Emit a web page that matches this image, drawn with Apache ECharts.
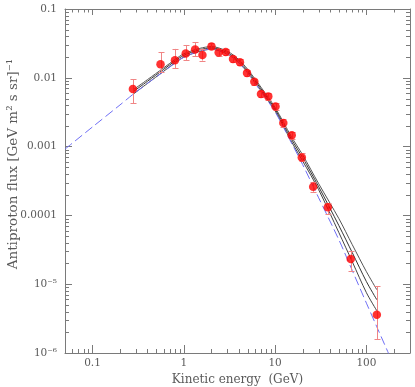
<!DOCTYPE html>
<html>
<head>
<meta charset="utf-8">
<script src="https://cdn.jsdelivr.net/npm/echarts@6/dist/echarts.min.js"></script>
<style>
html,body{margin:0;padding:0;background:#fff;}
#chart{width:415px;height:387px;}
</style>
</head>
<body>
<div id="chart"></div>
<script>
// ---- Data ----
const pointEnergy = [0.277, 0.556, 0.80, 1.05, 1.33, 1.60, 2.01, 2.41, 2.88, 3.46, 4.12, 4.92, 5.92, 7.0, 8.42, 10.1, 12.3, 15.2, 19.6, 26.1, 37.8, 67.3, 130];
const pointFlux   = [0.0069, 0.0158, 0.0180, 0.0226, 0.0257, 0.0214, 0.0286, 0.0234, 0.0237, 0.0187, 0.0168, 0.0117, 0.00877, 0.00582, 0.00537, 0.00384, 0.0022, 0.00146, 0.000697, 0.000261, 0.000131, 2.32e-5, 3.6e-6];
const errLow      = [0.0043, 0.0121, 0.0139, 0.0180, 0.0207, 0.0178, 0.0260, 0.0210, 0.0215, 0.0170, 0.0152, 0.0106, 0.0079, 0.0052, 0.0048, 0.0034, 0.00195, 0.0013, 0.00061, 0.00022, 0.000105, 1.57e-5, 1.6e-6];
const errHigh     = [0.0096, 0.0237, 0.0263, 0.0300, 0.0327, 0.0265, 0.0320, 0.0260, 0.0260, 0.0205, 0.0185, 0.0129, 0.0097, 0.0065, 0.0060, 0.0043, 0.00248, 0.00165, 0.00080, 0.00031, 0.000151, 3.0e-5, 9.3e-6];

const curveEnergy = [0.28, 0.4, 0.6, 0.8, 1, 1.5, 2, 3, 4, 5, 7, 10, 15, 20, 30, 50, 70, 100, 130];
const curveUpper  = [0.0067, 0.0094, 0.0139, 0.0184, 0.0223, 0.0268, 0.0284, 0.0243, 0.0184, 0.0133, 0.0073, 0.0037, 0.00141, 0.00076, 0.000289, 8.95e-5, 3.75e-5, 1.52e-5, 8.31e-6];
const curveMiddle = [0.0063, 0.0089, 0.0132, 0.0175, 0.0212, 0.0256, 0.0272, 0.0232, 0.0175, 0.0126, 0.0069, 0.0035, 0.0013, 0.00069, 0.000261, 7.08e-5, 2.87e-5, 1.09e-5, 5.94e-6];
const curveLower  = [0.0058, 0.0083, 0.0124, 0.0165, 0.0200, 0.0243, 0.0260, 0.0221, 0.0166, 0.0119, 0.0065, 0.0033, 0.0012, 0.00062, 0.000236, 5.6e-5, 2.12e-5, 7.52e-6, 4.11e-6];

const dashedEnergy = [0.05, 0.1, 0.2, 0.28, 0.4, 0.6, 0.8, 1, 1.5, 2, 3, 4, 5, 7, 10, 15, 20, 30, 50, 70, 100, 130, 180];
const dashedFlux   = [0.00092, 0.00193, 0.00403, 0.0058, 0.0083, 0.0123, 0.0163, 0.0199, 0.0245, 0.0262, 0.0222, 0.0165, 0.0117, 0.0063, 0.0032, 0.00115, 0.00055, 0.00018, 4.4e-5, 1.58e-5, 5.3e-6, 2.4e-6, 9.0e-7];

const xTickLabels = {'-1': '0.1', '0': '1', '1': '10', '2': '100'};
const yTickLabels = {'-1': '0.1', '-2': '0.01', '-3': '0.001', '-4': '0.0001', '-5': '10⁻⁵', '-6': '10⁻⁶'};
const xMinorTicks = [0.06, 0.07, 0.08, 0.09, 0.2, 0.3, 0.4, 0.5, 0.6, 0.7, 0.8, 0.9, 2, 3, 4, 5, 6, 7, 8, 9, 20, 30, 40, 50, 60, 70, 80, 90, 200];
const yMinorTicks = [2e-6,3e-6,4e-6,5e-6,6e-6,7e-6,8e-6,9e-6, 2e-5,3e-5,4e-5,5e-5,6e-5,7e-5,8e-5,9e-5, 2e-4,3e-4,4e-4,5e-4,6e-4,7e-4,8e-4,9e-4, 2e-3,3e-3,4e-3,5e-3,6e-3,7e-3,8e-3,9e-3, 0.02,0.03,0.04,0.05,0.06,0.07,0.08,0.09];

const X_MIN = 0.05, X_MAX = 300, Y_MIN = 1e-6, Y_MAX = 0.1;

// ---- Styles ----
const FONT = '"DejaVu Serif", "Liberation Serif", serif';
const AXIS_COLOR = '#7a7a7a';
const TEXT_COLOR = '#5a5a5a';

function decadeKey(v) {
  const l = Math.log10(v);
  const r = Math.round(l);
  return Math.abs(l - r) < 1e-6 ? String(r) : null;
}

function tickSeries(values, side, len) {
  const data = values.map(v => (side === 'bottom' || side === 'top') ? [v, side === 'bottom' ? Y_MIN : Y_MAX] : [side === 'left' ? X_MIN : X_MAX, v]);
  return {
    type: 'custom', silent: true, clip: false, z: 6,
    data: data,
    renderItem: function (params, api) {
      const p = api.coord([api.value(0), api.value(1)]);
      const x = Math.round(p[0]) + 0.5, y = Math.round(p[1]) + 0.5;
      let shape;
      if (side === 'bottom') shape = {x1: x, y1: p[1], x2: x, y2: p[1] - len};
      else if (side === 'top') shape = {x1: x, y1: p[1], x2: x, y2: p[1] + len};
      else if (side === 'left') shape = {x1: p[0], y1: y, x2: p[0] + len, y2: y};
      else shape = {x1: p[0], y1: y, x2: p[0] - len, y2: y};
      return {type: 'line', shape: shape, style: {stroke: AXIS_COLOR, lineWidth: 1}};
    }
  };
}

const errorData = pointEnergy.map((e, i) => [e, errLow[i], errHigh[i]]);

const option = {
  animation: false,
  backgroundColor: '#fff',
  grid: {left: 65, right: 5, top: 9, bottom: 34, outerBoundsMode: 'none', containLabel: false},
  xAxis: [{
    type: 'log', logBase: 10, min: X_MIN, max: X_MAX, position: 'bottom',
    axisLine: {lineStyle: {color: AXIS_COLOR, width: 1}},
    axisTick: {inside: true, length: 8, lineStyle: {color: AXIS_COLOR}},
    axisLabel: {
      color: TEXT_COLOR, fontFamily: FONT, fontSize: 10.5, margin: 5,
      showMinLabel: false, showMaxLabel: false,
      formatter: v => { const k = decadeKey(v); return k !== null && xTickLabels[k] ? xTickLabels[k] : ''; }
    },
    splitLine: {show: false},
    name: 'Kinetic energy  (GeV)', nameLocation: 'middle', nameGap: 19,
    nameTextStyle: {color: TEXT_COLOR, fontFamily: FONT, fontSize: 12}
  }, {
    type: 'log', logBase: 10, min: X_MIN, max: X_MAX, position: 'top',
    axisLine: {lineStyle: {color: AXIS_COLOR, width: 1}},
    axisTick: {inside: true, length: 6, lineStyle: {color: AXIS_COLOR}},
    axisLabel: {show: false}, splitLine: {show: false}
  }],
  yAxis: [{
    type: 'log', logBase: 10, min: Y_MIN, max: Y_MAX, position: 'left',
    axisLine: {lineStyle: {color: AXIS_COLOR, width: 1}},
    axisTick: {inside: true, length: 7, lineStyle: {color: AXIS_COLOR}},
    axisLabel: {
      color: TEXT_COLOR, fontFamily: FONT, fontSize: 10.5, margin: 8,
      formatter: v => { const k = decadeKey(v); return k !== null && yTickLabels[k] ? yTickLabels[k] : ''; }
    },
    splitLine: {show: false},
    name: 'Antiproton flux [GeV m² s sr]⁻¹', nameLocation: 'middle', nameGap: 45, nameRotate: 90,
    nameMoveOverlap: false,
    nameTextStyle: {color: TEXT_COLOR, fontFamily: FONT, fontSize: 13.5, padding: [0, 0, 0, 34]}
  }, {
    type: 'log', logBase: 10, min: Y_MIN, max: Y_MAX, position: 'right',
    axisLine: {lineStyle: {color: AXIS_COLOR, width: 1}},
    axisTick: {inside: true, length: 7, lineStyle: {color: AXIS_COLOR}},
    axisLabel: {show: false}, splitLine: {show: false}
  }],
  series: [
    tickSeries(xMinorTicks, 'bottom', 4),
    tickSeries(xMinorTicks, 'top', 3.5),
    tickSeries(yMinorTicks, 'left', 4),
    tickSeries(yMinorTicks, 'right', 4),
    {
      type: 'line', name: 'upper', data: curveEnergy.map((e, i) => [e, curveUpper[i]]),
      showSymbol: false, smooth: 0.3, lineStyle: {color: '#555', width: 1}, z: 3
    },
    {
      type: 'line', name: 'middle', data: curveEnergy.map((e, i) => [e, curveMiddle[i]]),
      showSymbol: false, smooth: 0.3, lineStyle: {color: '#333', width: 1}, z: 3
    },
    {
      type: 'line', name: 'lower', data: curveEnergy.map((e, i) => [e, curveLower[i]]),
      showSymbol: false, smooth: 0.3, lineStyle: {color: '#444', width: 1}, z: 3
    },
    {
      type: 'line', name: 'dashed', data: dashedEnergy.map((e, i) => [e, dashedFlux[i]]),
      showSymbol: false, smooth: 0.3, clip: true,
      lineStyle: {color: '#6f6ff5', width: 1, type: [9, 4]}, z: 4
    },
    {
      type: 'custom', name: 'errors', silent: true, z: 5,
      data: errorData,
      encode: {x: 0, y: [1, 2]},
      renderItem: function (params, api) {
        const lo = api.coord([api.value(0), api.value(1)]);
        const hi = api.coord([api.value(0), api.value(2)]);
        const x = Math.round(lo[0]) + 0.5;
        const cap = 3;
        const st = {stroke: '#f08585', lineWidth: 1};
        return {type: 'group', children: [
          {type: 'line', shape: {x1: x, y1: lo[1], x2: x, y2: hi[1]}, style: st},
          {type: 'line', shape: {x1: x - cap, y1: Math.round(lo[1]) + 0.5, x2: x + cap, y2: Math.round(lo[1]) + 0.5}, style: st},
          {type: 'line', shape: {x1: x - cap, y1: Math.round(hi[1]) + 0.5, x2: x + cap, y2: Math.round(hi[1]) + 0.5}, style: st}
        ]};
      }
    },
    {
      type: 'scatter', name: 'data', data: pointEnergy.map((e, i) => [e, pointFlux[i]]),
      symbol: 'circle', symbolSize: 8.5, itemStyle: {color: '#ff0000'}, z: 7
    }
  ]
};

const chart = echarts.init(document.getElementById('chart'), null, {renderer: 'canvas'});
chart.setOption(option);
</script>
</body>
</html>
